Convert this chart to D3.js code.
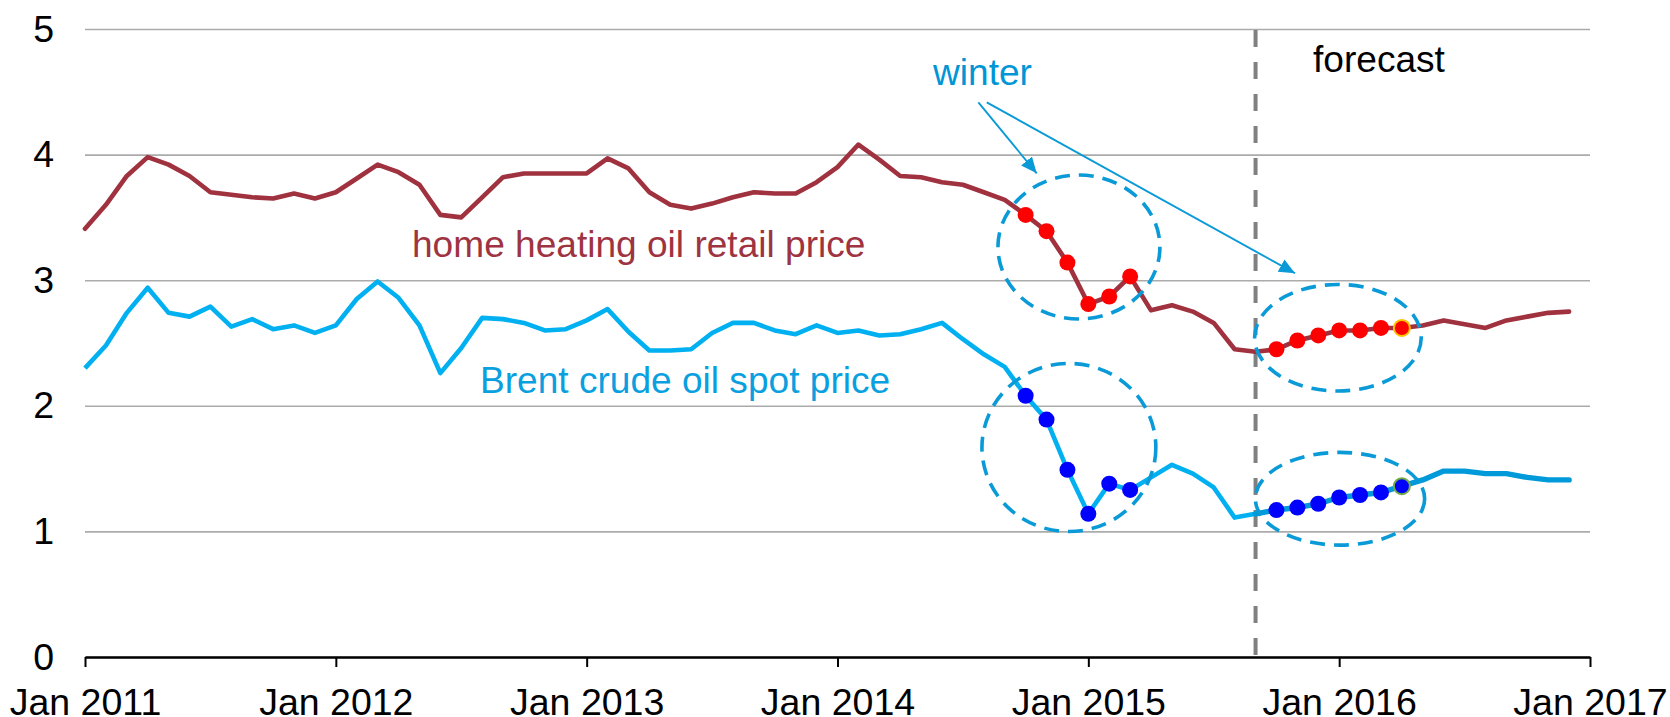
<!DOCTYPE html>
<html>
<head>
<meta charset="utf-8">
<script src="https://cdn.jsdelivr.net/npm/d3@7"></script>
<style>
  html, body { margin: 0; padding: 0; background: #ffffff; }
  svg { display: block; font-family: "Liberation Sans", Arial, sans-serif; }
</style>
</head>
<body>
<svg id="chart" width="1670" height="717"></svg>
<script>
// ---- data (monthly, Jan 2011 .. Dec 2016), $/gallon ----
const years = [2011, 2012, 2013, 2014, 2015, 2016, 2017];
const tickLabels = years.map(y => "Jan " + y);
const yTicks = [0, 1, 2, 3, 4, 5];

const heatingOil = [
  3.41, 3.60, 3.83, 3.98, 3.92, 3.83, 3.70, 3.68, 3.66, 3.65, 3.69, 3.65,
  3.70, 3.81, 3.92, 3.86, 3.76, 3.52, 3.50, 3.66, 3.82, 3.85, 3.85, 3.85,
  3.85, 3.97, 3.89, 3.70, 3.60, 3.57, 3.61, 3.66, 3.70, 3.69, 3.69, 3.78,
  3.90, 4.08, 3.96, 3.83, 3.82, 3.78, 3.76, 3.70, 3.64, 3.52, 3.39, 3.14,
  2.81, 2.87, 3.03, 2.76, 2.80, 2.75, 2.66, 2.45, 2.43, 2.45, 2.52, 2.56,
  2.60, 2.60, 2.62, 2.62, 2.64, 2.68, 2.65, 2.62, 2.68, 2.71, 2.74, 2.75
];
const brent = [
  2.30, 2.48, 2.74, 2.94, 2.74, 2.71, 2.79, 2.63, 2.69, 2.61, 2.64, 2.58,
  2.64, 2.85, 2.99, 2.86, 2.64, 2.26, 2.46, 2.70, 2.69, 2.66, 2.60, 2.61,
  2.68, 2.77, 2.59, 2.44, 2.44, 2.45, 2.58, 2.66, 2.66, 2.60, 2.57, 2.64,
  2.58, 2.60, 2.56, 2.57, 2.61, 2.66, 2.53, 2.41, 2.31, 2.08, 1.89, 1.49,
  1.14, 1.38, 1.33, 1.43, 1.53, 1.46, 1.35, 1.11, 1.14, 1.17, 1.19, 1.22,
  1.27, 1.29, 1.31, 1.36, 1.41, 1.48, 1.48, 1.46, 1.46, 1.43, 1.41, 1.41
];
// month indices (0 = Jan 2011)
const winterPast = [45, 46, 47, 48, 49, 50];          // Oct 2014 - Mar 2015
const winterForecast = [57, 58, 59, 60, 61, 62, 63];  // Oct 2015 - Apr 2016
const forecastStart = 56;                             // Sep 2015

// annotation ellipses in data units: [cx month, cy value, rx months, ry value]
const ellipses = [
  [47.55, 3.264, 3.875, 0.573],
  [47.07, 1.668, 4.16, 0.669],
  [59.94, 2.542, 3.985, 0.424],
  [60.04, 1.260, 4.05, 0.369]
];
// arrows from "winter": [x1, y1, x2, y2] in data units
const arrows = [
  [42.74, 4.416, 45.53, 3.851],
  [43.14, 4.416, 57.89, 3.055]
];

// ---- layout ----
const svg = d3.select("#chart");
const x0 = 85, x1 = 1590, yTop = 29, yBot = 657;
const fs = 37.1, fsTick = 37.5;
const x = d3.scaleLinear().domain([0, 72]).range([x0, x1]);
const y = d3.scaleLinear().domain([0, 5]).range([yBot, yTop]);

const redLine = "#a0323f";
const blueLine = "#00b0f0";
const blueFc = "#0099da";
const annot = "#0a9ad8";

svg.append("rect").attr("width", 1670).attr("height", 717).attr("fill", "#fff");

// y axis with gridlines
const yAxis = svg.append("g")
  .attr("transform", `translate(${x0},0)`)
  .call(d3.axisLeft(y).tickValues(yTicks).tickFormat(d3.format("d"))
    .tickSizeInner(-(x1 - x0)).tickSizeOuter(0).tickPadding(31));
yAxis.select(".domain").remove();
yAxis.selectAll(".tick line").attr("stroke", "#ababab").attr("stroke-width", 1.6);
yAxis.selectAll(".tick text").attr("font-size", fsTick).attr("fill", "#000")
  .attr("font-family", "Liberation Sans, Arial, sans-serif");

// forecast dashed line
svg.append("line")
  .attr("x1", x(forecastStart)).attr("x2", x(forecastStart))
  .attr("y1", y(5) + 1).attr("y2", y(0))
  .attr("stroke", "#808080").attr("stroke-width", 4)
  .attr("stroke-dasharray", "17 15");

// lines
const line = d3.line().x(d => x(d.i)).y(d => y(d.v));
const toPts = arr => arr.map((v, i) => ({ i, v }));
const hPts = toPts(heatingOil), bPts = toPts(brent);

svg.append("path").datum(bPts.slice(0, forecastStart + 1))
  .attr("d", line).attr("fill", "none").attr("stroke", blueLine)
  .attr("stroke-width", 4.6).attr("stroke-linejoin", "round");
svg.append("path").datum(bPts.slice(forecastStart))
  .attr("d", line).attr("fill", "none").attr("stroke", blueFc)
  .attr("stroke-width", 5.4).attr("stroke-linejoin", "round").attr("stroke-linecap", "round");
svg.append("path").datum(hPts)
  .attr("d", line).attr("fill", "none").attr("stroke", redLine)
  .attr("stroke-width", 4.6).attr("stroke-linejoin", "round").attr("stroke-linecap", "round");

// winter dots
function dots(series, idx, fill, lastStroke) {
  svg.append("g").selectAll("circle").data(idx).join("circle")
    .attr("cx", i => x(i)).attr("cy", i => y(series[i])).attr("r", 8)
    .attr("fill", fill)
    .attr("stroke", (i, k) => (lastStroke && k === idx.length - 1) ? lastStroke : "none")
    .attr("stroke-width", 2);
}
dots(heatingOil, winterPast, "#ff0000", null);
dots(heatingOil, winterForecast, "#ff0000", "#ffc000");
dots(brent, winterPast, "#0000ff", null);
dots(brent, winterForecast, "#0000ff", "#70ad47");

// ellipses
const pxPerMonth = x(1) - x(0), pxPerUnit = y(0) - y(1);
svg.append("g").selectAll("ellipse").data(ellipses).join("ellipse")
  .attr("cx", d => x(d[0])).attr("cy", d => y(d[1]))
  .attr("rx", d => d[2] * pxPerMonth).attr("ry", d => d[3] * pxPerUnit)
  .attr("fill", "none").attr("stroke", annot).attr("stroke-width", 3.6)
  .attr("stroke-dasharray", "15 9");

// arrows
const defs = svg.append("defs");
defs.append("marker").attr("id", "ah").attr("markerUnits", "userSpaceOnUse")
  .attr("markerWidth", 18).attr("markerHeight", 16)
  .attr("refX", 16).attr("refY", 7).attr("orient", "auto")
  .append("path").attr("d", "M0,0 L16,7 L0,14 Z").attr("fill", annot);
svg.append("g").selectAll("line").data(arrows).join("line")
  .attr("x1", d => x(d[0])).attr("y1", d => y(d[1]))
  .attr("x2", d => x(d[2])).attr("y2", d => y(d[3]))
  .attr("stroke", annot).attr("stroke-width", 1.9)
  .attr("marker-end", "url(#ah)");

// x axis
const xAxis = svg.append("g")
  .attr("transform", `translate(0,${yBot})`)
  .call(d3.axisBottom(x).tickValues(d3.range(0, 73, 12))
    .tickFormat((d, i) => tickLabels[i]).tickSizeInner(10).tickSizeOuter(0).tickPadding(21));
xAxis.select(".domain").attr("stroke", "#000").attr("stroke-width", 2.6);
xAxis.selectAll(".tick line").attr("stroke", "#000").attr("stroke-width", 2);
xAxis.selectAll(".tick text").attr("font-size", fsTick).attr("fill", "#000")
  .attr("font-family", "Liberation Sans, Arial, sans-serif");

// labels
const label = (t, px, py, fill) => svg.append("text").text(t)
  .attr("x", px).attr("y", py).attr("fill", fill).attr("font-size", fs);
label("home heating oil retail price", 412, 257, "#9e3341");
label("Brent crude oil spot price", 480, 393, "#0aa0df");
label("winter", 933, 85, "#0096d6");
label("forecast", 1313, 72, "#000");
</script>
</body>
</html>
